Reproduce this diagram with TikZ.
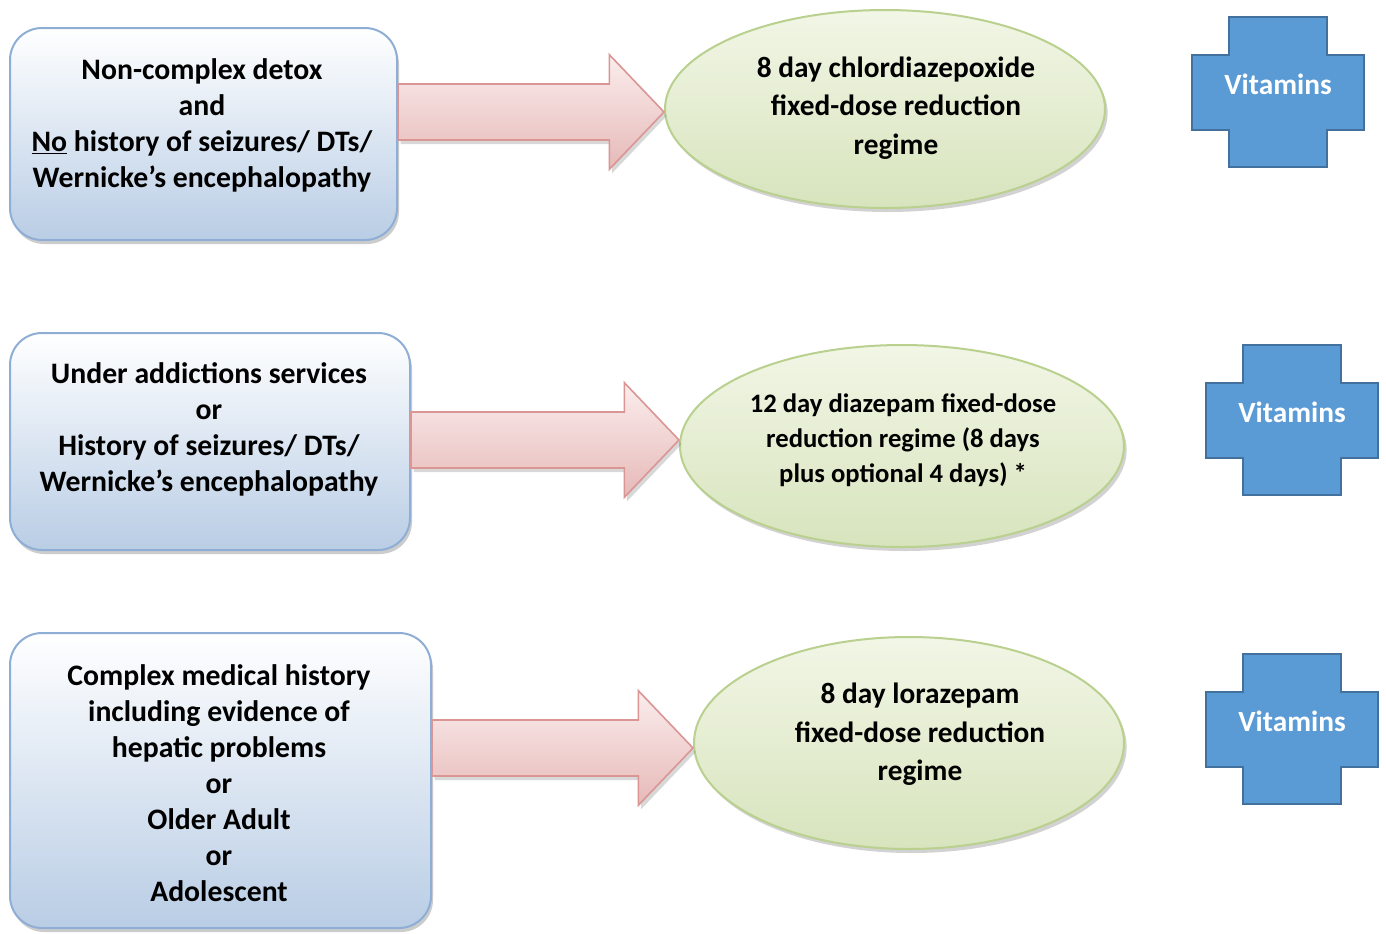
\documentclass[tikz,border=0pt]{standalone}
\usepackage{fontspec}
\setmainfont{Carlito}
\usepackage{tikz}
\usetikzlibrary{shapes.geometric,shadows,calc}
\definecolor{skyblue}{HTML}{B9CDE5}
\definecolor{skyedge}{HTML}{8EAED5}
\definecolor{rose}{HTML}{E6B9B8}
\definecolor{roselight}{HTML}{FBEDED}
\definecolor{roseedge}{HTML}{D99694}
\definecolor{sage}{HTML}{D7E4BD}
\definecolor{sagelight}{HTML}{F2F6E6}
\definecolor{sageedge}{HTML}{B9D08E}
\definecolor{plusblue}{HTML}{5B9BD5}
\definecolor{plusedge}{HTML}{41719C}
\def\px{0.75pt}

\begin{document}
\begin{tikzpicture}[x=0.75pt, y=-0.75pt,
  cond/.style={draw=skyedge, line width=1.5pt, rounded corners=24pt, top color=white, bottom color=skyblue,
    drop shadow={shadow xshift=1.5pt, shadow yshift=-3pt, opacity=.4}},
  regime/.style={ellipse, draw=sageedge, line width=1.5pt, inner sep=0pt, top color=sagelight, bottom color=sage,
    drop shadow={shadow xshift=2pt, shadow yshift=-3pt, opacity=.35}},
  fat/.style={draw=roseedge, line width=1.2pt, top color=roselight, bottom color=rose,
    drop shadow={shadow xshift=2pt, shadow yshift=-3pt, opacity=.3}},
  plus/.style={draw=plusedge, line width=1.5pt, fill=plusblue},
  txt/.style={align=center, font=\fontsize{22.3}{27}\selectfont\bfseries},
  ovtxt/.style={align=center, font=\fontsize{22}{29}\selectfont\bfseries},
  vit/.style={text=white, font=\fontsize{22}{27}\selectfont\bfseries}]
  \fill[white] (0,0) rectangle (1386,933);
  \useasboundingbox (0,0) rectangle (1386,933);
  \newcommand{\fatarrow}[3]{%
    \draw[fat] let \p1=(#1.east), \p2=([yshift=#3]#2.west) in
      (\x1,\y2+21pt) -- (\x2-41pt,\y2+21pt) -- (\x2-41pt,\y2+43pt) -- (\p2)
      -- (\x2-41pt,\y2-43pt) -- (\x2-41pt,\y2-21pt) -- (\x1,\y2-21pt) -- cycle;}
  % condition boxes
  \node[cond, minimum width=387*\px, minimum height=212*\px] (c1) at (203.5,134) {};
  \node[cond, minimum width=400*\px, minimum height=217*\px] (c2) at (210,441.5) {};
  \node[cond, minimum width=421*\px, minimum height=295*\px] (c3) at (220.5,780.5) {};
  \node[txt] (c1t) at (202,125) {Non-complex detox\\and\\\underline{No} history of seizures/ DTs/\\Wernicke’s encephalopathy};
  \node[txt] (c2t) at (209,429) {Under addictions services\\or\\History of seizures/ DTs/\\Wernicke’s encephalopathy};
  \node[txt] (c3t) at (219,783.5) {Complex medical history\\including evidence of\\hepatic problems\\or\\Older Adult\\or\\Adolescent};
  % regimes
  \node[regime, minimum width=440*\px, minimum height=198*\px] (r1) at (885,109) {};
  \node[regime, minimum width=444*\px, minimum height=202*\px] (r2) at (902,446) {};
  \node[regime, minimum width=430*\px, minimum height=212*\px] (r3) at (909,743) {};
  \node[ovtxt] (r1t) at (896,108) {8 day chlordiazepoxide\\fixed-dose reduction\\regime};
  \node[align=center, font=\fontsize{20}{26.3}\selectfont\bfseries] (r2t) at (903,440) {12 day diazepam fixed-dose\\reduction regime (8 days\\plus optional 4 days) *};
  \node[ovtxt] (r3t) at (920,734.5) {8 day lorazepam\\fixed-dose reduction\\regime};
  \fatarrow{c1}{r1}{-2.25pt}
  \fatarrow{c2}{r2}{4.5pt}
  \fatarrow{c3}{r3}{-3.75pt}
  % vitamin crosses
  \foreach \n/\cx/\cy in {1/1278/92, 2/1292/420, 3/1292/729} {
    \draw[plus] (\cx-49,\cy-75) -- (\cx+49,\cy-75) -- (\cx+49,\cy-37.5) -- (\cx+86,\cy-37.5) -- (\cx+86,\cy+37.5)
      -- (\cx+49,\cy+37.5) -- (\cx+49,\cy+75) -- (\cx-49,\cy+75) -- (\cx-49,\cy+37.5) -- (\cx-86,\cy+37.5)
      -- (\cx-86,\cy-37.5) -- (\cx-49,\cy-37.5) -- cycle;
    \node[vit] (vit\n) at (\cx,\cy-8) {Vitamins};
  }
\end{tikzpicture}
\end{document}
